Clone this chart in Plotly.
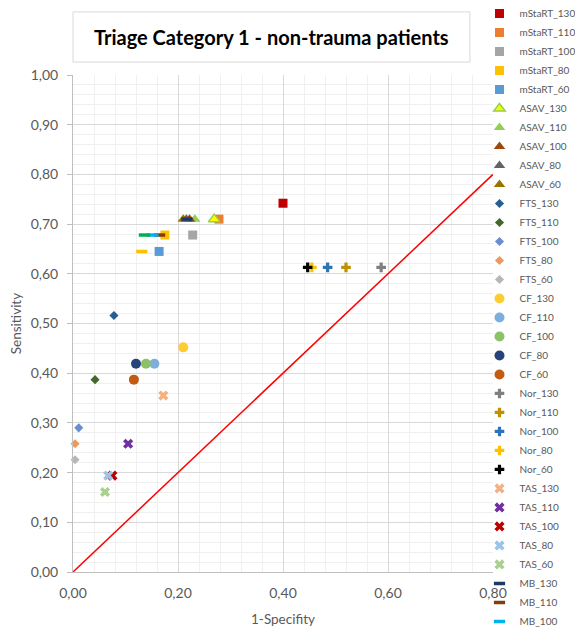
import plotly.graph_objects as go

# ---- data ----
series_names = [
    "mStaRT_130", "mStaRT_110", "mStaRT_100", "mStaRT_80", "mStaRT_60",
    "ASAV_130", "ASAV_110", "ASAV_100", "ASAV_80", "ASAV_60",
    "FTS_130", "FTS_110", "FTS_100", "FTS_80", "FTS_60",
    "CF_130", "CF_110", "CF_100", "CF_80", "CF_60",
    "Nor_130", "Nor_110", "Nor_100", "Nor_80", "Nor_60",
    "TAS_130", "TAS_110", "TAS_100", "TAS_80", "TAS_60",
    "MB_130", "MB_110", "MB_100", "MB_80", "MB_60",
]
one_minus_spec = [
    0.400, 0.278, 0.228, 0.175, 0.164,
    0.269, 0.232, 0.222, 0.216, 0.210,
    0.078, 0.042, 0.011, 0.004, 0.004,
    0.210, 0.155, 0.139, 0.120, 0.116,
    0.587, 0.520, 0.485, 0.455, 0.447,
    0.172, 0.105, 0.075, 0.067, 0.061,
    0.217, 0.165, 0.152, 0.136, 0.131,
]
sensitivity = [
    0.742, 0.710, 0.678, 0.678, 0.645,
    0.710, 0.710, 0.710, 0.710, 0.710,
    0.516, 0.387, 0.290, 0.258, 0.226,
    0.452, 0.419, 0.419, 0.419, 0.387,
    0.613, 0.613, 0.613, 0.613, 0.613,
    0.355, 0.258, 0.194, 0.194, 0.161,
    0.710, 0.678, 0.678, 0.678, 0.645,
]
ref_line_x = [0.0, 0.8]
ref_line_y = [0.0, 0.8]
x_ticks = [0.0, 0.2, 0.4, 0.6, 0.8]
y_ticks = [0.0, 0.1, 0.2, 0.3, 0.4, 0.5, 0.6, 0.7, 0.8, 0.9, 1.0]

# ---- styles ----
colors = [
    "#C00000", "#ED7D31", "#A5A5A5", "#FFC000", "#5B9BD5",
    "#FFFF00", "#92D050", "#9E480E", "#636363", "#997300",
    "#255E91", "#43682B", "#698ED0", "#F1975A", "#B7B7B7",
    "#FFCD33", "#7CAFDD", "#8CC168", "#264478", "#C55A11",
    "#7F7F7F", "#BF9000", "#2E75B6", "#FFC000", "#000000",
    "#F4B183", "#7030A0", "#C00000", "#9DC3E6", "#A9D18E",
    "#203864", "#843C0C", "#00B0F0", "#00B050", "#FFC000",
]
family_style = {
    "mStaRT": ("square", 9),
    "ASAV": ("triangle-up", 10),
    "FTS": ("diamond", 7),
    "CF": ("circle", 10),
    "Nor": ("cross", 8),
    "TAS": ("x", 9),
    "MB": ("line-ew", 8),
}

fig = go.Figure()

fig.add_trace(go.Scatter(
    x=ref_line_x, y=ref_line_y, mode="lines",
    line=dict(color="#FF0000", width=1.5),
    showlegend=False, hoverinfo="skip",
))

for name, xv, yv, col in zip(series_names, one_minus_spec, sensitivity, colors):
    fam = name.split("_")[0]
    sym, size = family_style[fam]
    if fam == "MB":
        marker = dict(symbol=sym, size=size, line=dict(color=col, width=3.5))
    elif name == "ASAV_130":
        marker = dict(symbol=sym, size=size, color=col, line=dict(color="#92D050", width=1.5))
    else:
        marker = dict(symbol=sym, size=size, color=col, line=dict(width=0))
    fig.add_trace(go.Scatter(
        x=[xv], y=[yv], mode="markers", name=name, marker=marker,
        cliponaxis=False,
    ))

grey = "#595959"
fig.update_layout(
    width=575, height=622,
    margin=dict(l=65, r=90, t=67, b=58, autoexpand=False),
    paper_bgcolor="white", plot_bgcolor="white",
    separators=",.",
    font=dict(family="Lato, Open Sans, sans-serif", color=grey, size=13),
    showlegend=True,
    legend=dict(
        x=0.82, xref="container", xanchor="left",
        y=1.153, yref="paper", yanchor="top",
        font=dict(size=10, color=grey, family="Lato, sans-serif"),
        bgcolor="rgba(0,0,0,0)",
        tracegroupgap=0, itemclick=False, borderwidth=0, maxheight=1000,
    ),
    xaxis=dict(
        range=[0, 0.8], tickvals=x_ticks, tickformat=".2f",
        showgrid=True, gridcolor="#D9D9D9", gridwidth=1,
        minor=dict(dtick=0.04, showgrid=True, gridcolor="#F0F0F0", gridwidth=1),
        showline=True, linecolor="#BFBFBF", linewidth=1,
        zeroline=False, ticks="", ticklabelstandoff=8,
        tickfont=dict(size=14, color=grey),
        title=dict(text="1-Specifity", font=dict(size=13.5, color=grey), standoff=14),
    ),
    yaxis=dict(
        range=[0, 1.0], tickvals=y_ticks, tickformat=".2f",
        showgrid=True, gridcolor="#D9D9D9", gridwidth=1,
        minor=dict(dtick=0.02, showgrid=True, gridcolor="#F0F0F0", gridwidth=1),
        showline=True, linecolor="#BFBFBF", linewidth=1,
        zeroline=False, ticks="outside", ticklen=5, tickcolor="#BFBFBF",
        ticklabelstandoff=6,
        tickfont=dict(size=14, color=grey),
        title=dict(text="Sensitivity", font=dict(size=13.5, color=grey), standoff=8),
    ),
    shapes=[dict(
        type="rect", xref="paper", yref="paper",
        x0=0.0, x1=0.945, y0=1.026, y1=1.127,
        line=dict(color="#D9D9D9", width=1), fillcolor="white", layer="above",
    )],
    annotations=[dict(
        text="<b>Triage Category 1 - non-trauma patients</b>",
        xref="paper", yref="paper", x=0.4725, y=1.0765,
        xanchor="center", yanchor="middle", showarrow=False,
        font=dict(size=20, color="#000000", family="Lato, Open Sans, sans-serif"),
    )],
)

fig.write_html("out.html")
